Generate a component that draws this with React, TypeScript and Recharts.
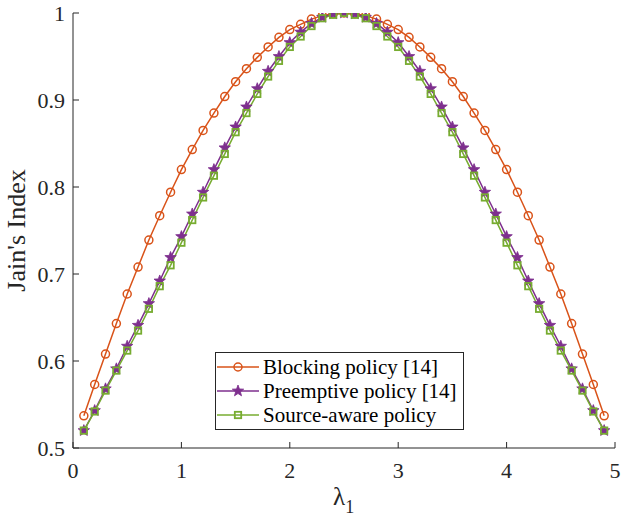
import React from 'react';
import { LineChart, Line, XAxis, YAxis, Label } from 'recharts';

const LAMBDA = [
  0.1, 0.2, 0.3, 0.4, 0.5, 0.6, 0.7, 0.8, 0.9, 1.0, 1.1, 1.2, 1.3, 1.4, 1.5, 1.6, 1.7,
  1.8, 1.9, 2.0, 2.1, 2.2, 2.3, 2.4, 2.5, 2.6, 2.7, 2.8, 2.9, 3.0, 3.1, 3.2, 3.3, 3.4,
  3.5, 3.6, 3.7, 3.8, 3.9, 4.0, 4.1, 4.2, 4.3, 4.4, 4.5, 4.6, 4.7, 4.8, 4.9,
];
const BLOCKING = [
  0.537, 0.573, 0.608, 0.643, 0.677, 0.708, 0.739, 0.767, 0.794, 0.820, 0.843, 0.865, 0.885,
  0.904, 0.921, 0.936, 0.949, 0.961, 0.972, 0.981, 0.987, 0.993, 0.997, 0.999, 1.0,
  0.999, 0.997, 0.993, 0.987, 0.981, 0.972, 0.961, 0.949, 0.936, 0.921, 0.904, 0.885,
  0.865, 0.843, 0.820, 0.794, 0.767, 0.739, 0.708, 0.677, 0.643, 0.608, 0.573, 0.537,
];
const PREEMPTIVE = [
  0.520, 0.543, 0.568, 0.591, 0.617, 0.641, 0.666, 0.692, 0.719, 0.743, 0.769, 0.794, 0.820,
  0.845, 0.869, 0.892, 0.913, 0.933, 0.950, 0.966, 0.978, 0.988, 0.995, 0.999, 1.0,
  0.999, 0.995, 0.988, 0.978, 0.966, 0.950, 0.933, 0.913, 0.892, 0.869, 0.845, 0.820,
  0.794, 0.769, 0.743, 0.719, 0.692, 0.666, 0.641, 0.617, 0.591, 0.568, 0.543, 0.520,
];
const SOURCE_AWARE = [
  0.520, 0.542, 0.566, 0.589, 0.612, 0.635, 0.660, 0.686, 0.710, 0.736, 0.762, 0.788, 0.813,
  0.838, 0.863, 0.885, 0.907, 0.927, 0.945, 0.961, 0.973, 0.985, 0.994, 0.998, 1.0,
  0.998, 0.994, 0.985, 0.973, 0.961, 0.945, 0.927, 0.907, 0.885, 0.863, 0.838, 0.813,
  0.788, 0.762, 0.736, 0.710, 0.686, 0.660, 0.635, 0.612, 0.589, 0.566, 0.542, 0.520,
];
const X_TICKS = [0, 1, 2, 3, 4, 5];
const Y_TICKS = [0.5, 0.6, 0.7, 0.8, 0.9, 1];

const SERIES = [
  { key: 'blocking', name: 'Blocking policy [14]', color: '#D95319', marker: 'circle' },
  { key: 'preemptive', name: 'Preemptive policy [14]', color: '#7E2F8E', marker: 'star' },
  { key: 'source', name: 'Source-aware policy', color: '#77AC30', marker: 'square' },
];

const data = LAMBDA.map((x, i) => ({
  x,
  blocking: BLOCKING[i],
  preemptive: PREEMPTIVE[i],
  source: SOURCE_AWARE[i],
}));

const AXIS = '#262626';
const FONT = '"Liberation Serif", "DejaVu Serif", serif';

function starPoints(cx: number, cy: number, r: number) {
  const pts: string[] = [];
  for (let k = 0; k < 10; k++) {
    const rad = k % 2 === 0 ? r : r * 0.42;
    const a = -Math.PI / 2 + (k * Math.PI) / 5;
    pts.push(`${cx + rad * Math.cos(a)},${cy + rad * Math.sin(a)}`);
  }
  return pts.join(' ');
}

function Marker({ type, cx, cy, color }: { type: string; cx: number; cy: number; color: string }) {
  if (type === 'circle')
    return <circle cx={cx} cy={cy} r={4} fill="none" stroke={color} strokeWidth={1.5} />;
  if (type === 'star')
    return <polygon points={starPoints(cx, cy, 6)} fill={color} stroke={color} strokeWidth={0.8} />;
  return <rect x={cx - 3.2} y={cy - 3.2} width={6.4} height={6.4} fill="none" stroke={color} strokeWidth={1.8} />;
}

const makeDot = (type: string, color: string) => (props: any) => {
  const { cx, cy, index } = props;
  if (cx == null || cy == null) return <g key={index} />;
  return <Marker key={index} type={type} cx={cx} cy={cy} color={color} />;
};

function LegendBox() {
  return (
    <div
      style={{
        position: 'absolute',
        left: 215,
        top: 352,
        border: '1px solid #262626',
        background: '#fff',
        padding: '2px 6px 2px 1px',
        fontFamily: FONT,
        fontSize: 21,
        color: '#000',
        lineHeight: '24px',
      }}
    >
      {SERIES.map((s) => (
        <div key={s.key} style={{ display: 'flex', alignItems: 'center' }}>
          <svg width={42} height={14} style={{ marginRight: 4 }}>
            <line x1={0} y1={7} x2={42} y2={7} stroke={s.color} strokeWidth={1.5} />
            <Marker type={s.marker} cx={21} cy={7} color={s.color} />
          </svg>
          <span>{s.name}</span>
        </div>
      ))}
    </div>
  );
}

export default function App() {
  const tickStyle = { fontFamily: FONT, fontSize: 22, fill: AXIS };
  return (
    <div style={{ position: 'fixed', left: 0, top: 0, width: 621, height: 520, background: '#fff' }}>
      <LineChart
        width={621}
        height={520}
        data={data}
        margin={{ top: 13, right: 6, bottom: 42, left: 13 }}
      >
        <XAxis
          dataKey="x"
          type="number"
          domain={[0, 5]}
          ticks={X_TICKS}
          allowDataOverflow
          stroke={AXIS}
          tick={tickStyle}
          tickSize={-6}
          tickMargin={20}
          height={30}
        >
          <Label
            content={({ viewBox }: any) => (
              <text
                x={viewBox.x + viewBox.width / 2 - 11}
                y={505}
                textAnchor="start"
                fontFamily={FONT}
                fontSize={25}
                fill={AXIS}
              >
                λ
                <tspan dy={8} fontSize={18}>1</tspan>
              </text>
            )}
          />
        </XAxis>
        <XAxis
          xAxisId="top"
          dataKey="x"
          orientation="top"
          type="number"
          domain={[0, 5]}
          ticks={X_TICKS}
          allowDataOverflow
          stroke={AXIS}
          tick={() => <g />}
          tickSize={-6}
          height={0}
        />
        <YAxis
          type="number"
          domain={[0.5, 1]}
          ticks={Y_TICKS}
          allowDataOverflow
          stroke={AXIS}
          tick={tickStyle}
          tickFormatter={(v: number) => (v === 1 ? '1' : v.toFixed(1))}
          tickSize={-6}
          tickMargin={14}
          width={60}
        >
          <Label
            content={({ viewBox }: any) => (
              <text
                x={0}
                y={0}
                transform={`translate(${25}, ${viewBox.y + viewBox.height / 2}) rotate(-90)`}
                textAnchor="middle"
                fontFamily={FONT}
                fontSize={26}
                fill={AXIS}
              >
                Jain's Index
              </text>
            )}
          />
        </YAxis>
        <YAxis
          yAxisId="right"
          orientation="right"
          type="number"
          domain={[0.5, 1]}
          ticks={Y_TICKS}
          allowDataOverflow
          stroke={AXIS}
          tick={() => <g />}
          tickSize={-6}
          width={0}
        />
        {/* invisible series so the top/right frame axes get drawn */}
        <Line
          xAxisId="top"
          yAxisId="right"
          dataKey="blocking"
          stroke="none"
          dot={false}
          activeDot={false}
          legendType="none"
          isAnimationActive={false}
        />
        {SERIES.map((s) => (
          <Line
            key={s.key}
            dataKey={s.key}
            name={s.name}
            type="linear"
            stroke={s.color}
            strokeWidth={1.5}
            dot={makeDot(s.marker, s.color)}
            activeDot={false}
            isAnimationActive={false}
          />
        ))}
      </LineChart>
      <LegendBox />
    </div>
  );
}
